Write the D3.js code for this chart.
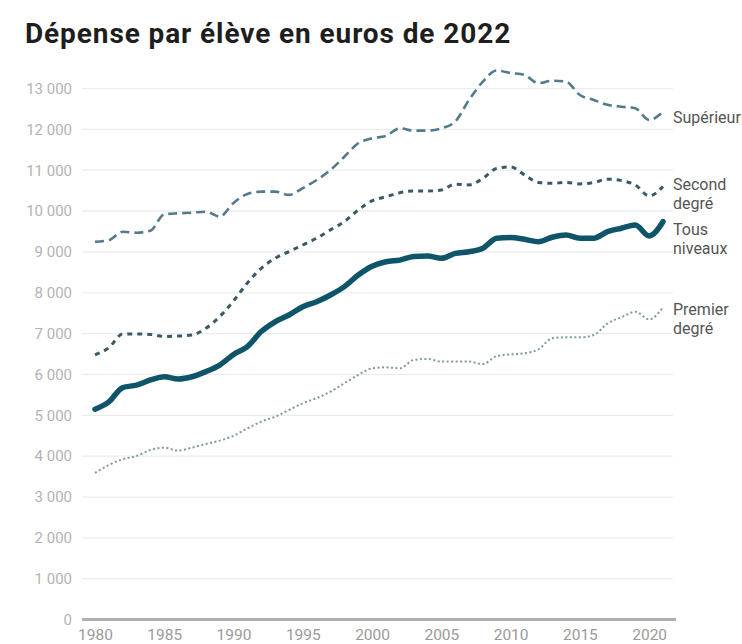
<!DOCTYPE html>
<html><head><meta charset="utf-8">
<script src="https://cdn.jsdelivr.net/npm/d3@7"></script>
<style>
html,body{margin:0;padding:0;background:#fff;}
svg{display:block;font-family:Roboto,"Noto Sans",sans-serif;}
</style></head>
<body>
<svg id="chart" width="742" height="644"></svg>
<script>
const years = d3.range(1980, 2022);
const tousNiveaux = [5150,5330,5680,5740,5865,5945,5890,5945,6070,6230,6490,6680,7050,7290,7455,7660,7780,7945,8150,8435,8650,8760,8800,8885,8900,8845,8965,9005,9090,9335,9350,9310,9250,9360,9415,9335,9335,9495,9580,9660,9390,9740];
const secondDegre = [6480,6655,6990,6990,6980,6930,6940,6965,7130,7415,7800,8240,8600,8845,9005,9170,9335,9540,9740,10025,10250,10350,10450,10490,10490,10515,10660,10640,10800,11045,11080,10885,10700,10680,10700,10665,10700,10780,10745,10640,10370,10600];
const superieur = [9250,9290,9495,9470,9520,9920,9945,9960,9985,9865,10200,10420,10475,10475,10395,10560,10760,11005,11330,11660,11780,11840,12025,11970,11970,12025,12190,12720,13170,13440,13380,13330,13130,13190,13170,12840,12720,12600,12555,12515,12230,12430];
const premierDegre = [3590,3785,3925,4005,4150,4210,4135,4210,4300,4380,4500,4680,4845,4965,5130,5295,5420,5580,5785,5990,6150,6175,6150,6355,6380,6315,6315,6315,6255,6450,6490,6520,6615,6885,6910,6910,6965,7250,7400,7535,7350,7645];
const seriesNames = ["Supérieur","Second degré","Tous niveaux","Premier degré"];
const labelLines = [["Supérieur"],["Second","degré"],["Tous","niveaux"],["Premier","degré"]];
const yTicks = [0,1000,2000,3000,4000,5000,6000,7000,8000,9000,10000,11000,12000,13000];
const xTicks = [1980,1985,1990,1995,2000,2005,2010,2015,2020];
const title = "Dépense par élève en euros de 2022";

const svg = d3.select("#chart");
const x = d3.scaleLinear().domain([1980, 2021]).range([95, 663]);
const y = d3.scaleLinear().domain([0, 13000]).range([619.6, 88.5]);
const gridX0 = 82, gridX1 = 673;

svg.append("text").attr("x", 25).attr("y", 43)
  .attr("font-size", 28).attr("font-weight", 700).attr("fill", "#1e1e1e")
  .attr("letter-spacing", 0.9)
  .attr("font-family", "Roboto, sans-serif").text(title);

// grid
const fmt = v => d3.format(",")(v).replace(/,/g, "\u00a0");
const yAxis = d3.axisLeft(y).tickValues(yTicks).tickSize(0).tickPadding(0).tickFormat(fmt);
const gy = svg.append("g").attr("transform", `translate(72,0)`).call(yAxis);
gy.select(".domain").remove();
gy.selectAll("text").attr("font-size", 15).attr("fill", "#b3b3b3").attr("font-family", "Roboto, sans-serif");
svg.append("g").selectAll("line").data(yTicks.filter(d => d > 0)).join("line")
  .attr("x1", gridX0).attr("x2", gridX1).attr("y1", d => y(d)).attr("y2", d => y(d))
  .attr("stroke", "#ebebeb").attr("stroke-width", 1.2);
svg.append("line").attr("x1", gridX0).attr("x2", 676).attr("y1", y(0)).attr("y2", y(0))
  .attr("stroke", "#b0b0b0").attr("stroke-width", 3);

const xAxis = d3.axisBottom(x).tickValues(xTicks).tickSize(0).tickPadding(0).tickFormat(d3.format("d"));
const gx = svg.append("g").attr("transform", `translate(0,${y(0) + 9})`).call(xAxis);
gx.select(".domain").remove();
gx.selectAll("text").attr("font-size", 15.5).attr("fill", "#9a9a9a").attr("font-family", "Roboto, sans-serif");

const data = [superieur, secondDegre, tousNiveaux, premierDegre];
const styles = [
  {color: "#527a89", width: 2.6, dash: "9,5"},
  {color: "#3a5966", width: 3, dash: "5,5"},
  {color: "#0f5569", width: 5.5, dash: null},
  {color: "#7c98a3", width: 2, dash: "2,2.5"}
];
const line = d3.line().x((d, i) => x(years[i])).y(d => y(d)).curve(d3.curveMonotoneX);
data.forEach((vals, k) => {
  const p = svg.append("path").datum(vals).attr("d", line)
    .attr("fill", "none").attr("stroke", styles[k].color).attr("stroke-width", styles[k].width)
    .attr("stroke-linejoin", "round");
  if (styles[k].dash) p.attr("stroke-dasharray", styles[k].dash);
  else p.attr("stroke-linecap", "round");
});

// end labels
const labelY = [117, 184, 229, 309];
labelLines.forEach((lines, k) => {
  const t = svg.append("text").attr("x", 673).attr("y", labelY[k] + 5.5)
    .attr("font-size", 16).attr("fill", "#555555").attr("font-family", "Roboto, sans-serif");
  lines.forEach((s, j) => t.append("tspan").attr("x", 673).attr("dy", j === 0 ? 0 : 19.5).text(s));
});
</script>
</body></html>
